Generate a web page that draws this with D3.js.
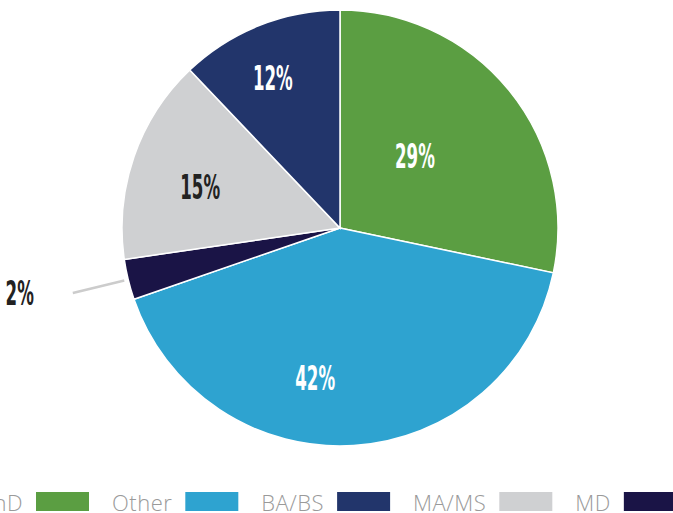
<!DOCTYPE html>
<html>
<head>
<meta charset="utf-8">
<script src="https://cdn.jsdelivr.net/npm/d3@7"></script>
<style>
  body { margin: 0; background: #fff; }
</style>
</head>
<body>
<div id="chart"></div>
<script>
// slices, clockwise from 12 o'clock
var categories = ["PhD", "Other", "MD", "MA/MS", "BA/BS"];
var values = [28.3, 41.4, 3.0, 15.2, 12.1];
var labels = ["29%", "42%", "2%", "15%", "12%"];
var colors = ["#5b9e42", "#2ea3d0", "#1a1446", "#cfd0d2", "#22356b"];
var legendOrder = ["PhD", "Other", "BA/BS", "MA/MS", "MD"];

var width = 673, height = 513
  , cx = 340, cy = 228, radius = 218;

// small hand nudges for the labels so they sit like the original
var nudge = {"PhD": [-26, 10], "Other": [-33, 20], "MA/MS": [-17, 2], "BA/BS": [-19, -29]};
var darkText = {"MA/MS": true, "MD": true};

var color = d3.scaleOrdinal().domain(categories).range(colors);

var pie = d3.pie().sort(null).value(d => d.value);
var data = categories.map((c, i) => ({cat: c, value: values[i], label: labels[i]}));
var arcs = pie(data);

var arc = d3.arc().innerRadius(0).outerRadius(radius);
var labelArc = d3.arc().innerRadius(130).outerRadius(130);

var svg = d3.select("#chart")
  .append("svg")
    .attr("width", width)
    .attr("height", height);

var g = svg.append("g")
  .attr("transform", "translate(" + cx + "," + cy + ")");

g.selectAll("path.slice")
  .data(arcs)
  .enter()
  .append("path")
    .attr("class", "slice")
    .attr("d", arc)
    .attr("fill", d => color(d.data.cat))
    .attr("stroke", "#fff")
    .attr("stroke-width", 1.5);

// condensed look: squeeze a bold condensed face horizontally
var labelFont = "'DejaVu Sans Condensed', sans-serif"
  , squeeze = " scale(0.56,1)";

// inside labels
g.selectAll("text.pct")
  .data(arcs.filter(d => nudge[d.data.cat]))
  .enter()
  .append("text")
    .attr("class", "pct")
    .attr("transform", d => {
      var c = labelArc.centroid(d), n = nudge[d.data.cat];
      return "translate(" + (c[0] + n[0]) + "," + (c[1] + n[1]) + ")" + squeeze;
    })
    .attr("text-anchor", "middle")
    .attr("dy", "0.36em")
    .attr("font-family", labelFont)
    .attr("font-weight", "bold")
    .attr("font-size", 33)
    .attr("fill", d => darkText[d.data.cat] ? "#222" : "#fff")
    .text(d => d.data.label);

// the small slice gets a leader line and an outside label
var small = arcs.filter(d => !nudge[d.data.cat]);
var polar = (a, r) => [Math.sin(a) * r, -Math.cos(a) * r];

small.forEach(d => {
  var mid = (d.startAngle + d.endAngle) / 2;
  var p1 = polar(mid, radius + 4), p2 = polar(mid, radius + 57);
  g.append("line")
    .attr("x1", p1[0]).attr("y1", p1[1])
    .attr("x2", p2[0]).attr("y2", p2[1])
    .attr("stroke", "#cccccc")
    .attr("stroke-width", 2.5);
  g.append("text")
    .attr("transform", "translate(" + (p2[0] - 39) + "," + p2[1] + ")" + squeeze)
    .attr("text-anchor", "end")
    .attr("dy", "0.36em")
    .attr("font-family", labelFont)
    .attr("font-weight", "bold")
    .attr("font-size", 33)
    .attr("fill", "#222")
    .text(d.data.label);
});

// legend: label then swatch, running off the left edge
var legend = svg.append("g").attr("class", "legend");
var x = 23, first = true;
legendOrder.forEach(c => {
  var t = legend.append("text")
    .attr("y", 511)
    .attr("font-family", "'Open Sans', sans-serif")
    .attr("font-weight", 300)
    .attr("font-size", 22)
    .attr("letter-spacing", 0.5)
    .attr("fill", "#9a9a9a")
    .text(c);
  var w = t.node().getComputedTextLength();
  if (first) { x = 23 - w; first = false; }
  t.attr("x", x);
  x += w + 13;
  legend.append("rect")
    .attr("x", x)
    .attr("y", 492)
    .attr("width", 53)
    .attr("height", 19)
    .attr("fill", color(c));
  x += 53 + 23;
});
</script>
</body>
</html>
